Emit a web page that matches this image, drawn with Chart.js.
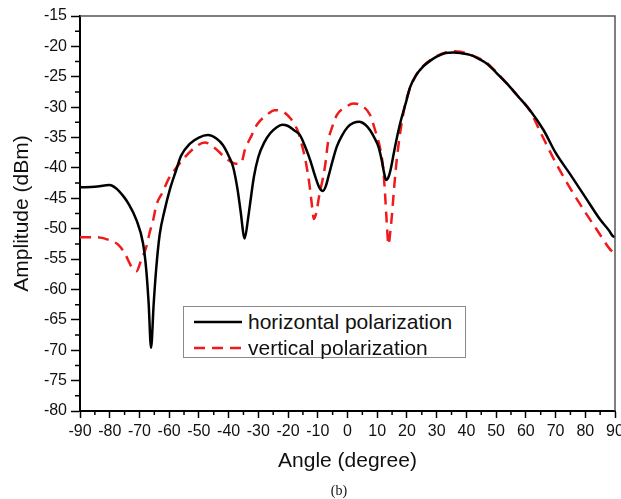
<!DOCTYPE html>
<html>
<head>
<meta charset="utf-8">
<script src="https://cdn.jsdelivr.net/npm/chart.js@4.4.1/dist/chart.umd.min.js"></script>
<style>
  body { margin: 0; background: #fff; }
  #wrap { position: relative; width: 621px; height: 499px; }
  #legend {
    position: absolute; left: 183px; top: 306px; width: 281px; height: 50px;
    border: 1.5px solid #8a8a8a; background: #fff;
    font-family: "Liberation Sans", Arial, sans-serif; font-size: 21px; color: #111;
  }
  #legend .row { position: absolute; left: 0; height: 26px; line-height: 26px; white-space: nowrap; }
  #legend svg { position: absolute; left: 10px; top: 0; }
  #legend span { position: absolute; left: 64px; top: 0; }
  #caption {
    position: absolute; left: 309px; top: 482px; width: 60px; text-align: center;
    font-family: "Liberation Serif", "Times New Roman", serif; font-size: 14px; line-height: 18px; color: #111;
  }
</style>
</head>
<body>
<div id="wrap">
  <canvas id="chart"></canvas>
  <div id="legend"></div>
  <div id="caption">(b)</div>
</div>
<script>
/* =========================
   DATA
========================= */
const angleH = [-90, -85, -80, -78, -75.5, -73.8, -71, -68.8, -67.7, -66.9, -66.1, -65.2, -64.4, -63.2, -61.5,
  -59.8, -57.6, -56, -53, -50, -47, -44, -42, -40, -38.5, -37, -36, -34.6, -33.5, -32.8, -31.5, -30, -28,
  -26, -24, -22, -20, -18, -16, -14, -12.5, -11, -9.5, -8.3, -7.3, -6.4, -5, -3.6, -2, 0, 2, 4, 6, 7.6,
  9, 10.4, 11.5, 12.3, 13, 13.8, 14.5, 16, 17.7, 19.9, 21, 23, 25.5, 28, 30, 33, 35.6, 38, 41.2, 44,
  46.8, 50, 53.6, 57, 61.4, 66, 70, 75, 80, 85, 88, 89.2, 90];
const ampH = [-43.2, -43.1, -42.8, -43.3, -44.6, -45.8, -48.6, -52.4, -56.8, -62.3, -69.6, -62.3, -56.8, -51, -46.9,
  -43.6, -40.3, -38, -36, -35, -34.6, -35.2, -36.2, -38, -39.8, -43.5, -47, -51.6, -48.5, -46, -41.5, -38.2, -35.8,
  -34.3, -33.4, -32.9, -33.1, -33.8, -34.6, -36.8, -38.8, -41.2, -43.2, -43.8, -43, -41.4, -38.8, -36.5, -34.8, -33.3, -32.6, -32.4, -32.9, -33.8,
  -35, -36.5, -38.7, -40.8, -42, -41.5, -40.3, -36.5, -32.7, -28.8, -26.8, -24.8, -23.3, -22.3, -21.7, -21.1, -21, -21.1, -21.4, -22,
  -22.8, -24.3, -26.1, -28, -30.5, -33.8, -37.5, -41.1, -44.8, -48.5, -50.3, -51.2, -51.4];

const angleV = [-90, -85, -80, -77, -75, -72.5, -71, -69.5, -67.7, -66.5, -65.4, -64.3, -62.1, -60.4, -58.1,
  -55, -51, -48, -45, -40.6, -37.5, -35.8, -34.5, -32.2, -30.5, -27.2, -24.5, -22.5, -19.3, -16.5, -15.2,
  -14.2, -13.2, -12.6, -12, -11.3, -10.5, -9.5, -8.4, -7.5, -6.5, -5.3, -3.6, -0.3, 2, 4.2, 7.6, 9.3, 10.9,
  12, 12.6, 13.2, 13.8, 14.4, 15, 15.4, 16, 16.6, 17.7, 18.8, 20, 23, 25.5, 28, 30, 33, 36, 38, 41.2, 44,
  46.8, 50, 53.6, 57, 61.4, 65, 70, 75, 80, 85, 88, 90];
const ampV = [-51.4, -51.4, -51.9, -52.7, -54, -56.4, -57, -55.3, -53, -50.5, -48.6, -46.1, -43.9, -42, -40.3,
  -38.4, -36.5, -35.8, -36.6, -38.5, -39.3, -39.2, -37, -34.6, -32.9, -31.3, -30.5, -30.6, -31.8, -34.2, -36.5,
  -38.6, -41.4, -43.5, -46, -48.4, -47.4, -44.5, -42, -39.5, -35.6, -33.5, -31.3, -29.9, -29.4, -29.6, -31.3, -33.8, -36.6,
  -40, -44, -49, -52.6, -50.5, -47.5, -45, -41.5, -38.5, -34.3, -31, -28.4, -24.8, -23.2, -22.2, -21.6, -21, -20.8, -20.9, -21.3, -21.9,
  -22.7, -24.2, -26.1, -28, -30.6, -34.2, -39.1, -43.4, -47.3, -51, -53.2, -54.2];

const seriesNames = ["horizontal polarization", "vertical polarization"];
const xMin = -90, xMax = 90, xStep = 10;
const yMin = -80, yMax = -15, yStep = 5;

const toPoints = (xs, ys) => xs.map((x, i) => ({ x: x, y: ys[i] }));

/* =========================
   FRAME + MINOR TICKS
========================= */
const frame = {
  id: "frame",
  afterDraw(chart) {
    const { ctx, chartArea: a, scales: { x, y } } = chart;
    ctx.save();
    ctx.strokeStyle = "#555";
    ctx.lineWidth = 1.5;
    ctx.beginPath();
    ctx.moveTo(a.left, a.top);
    ctx.lineTo(a.right, a.top);
    ctx.lineTo(a.right, a.bottom);
    ctx.stroke();

    ctx.strokeStyle = "#000";
    ctx.beginPath();
    for (let v = yMin + yStep / 2; v < yMax; v += yStep) {
      const py = y.getPixelForValue(v);
      ctx.moveTo(a.left - 5, py);
      ctx.lineTo(a.left, py);
    }
    for (let v = xMin + xStep / 2; v < xMax; v += xStep) {
      const px = x.getPixelForValue(v);
      ctx.moveTo(px, a.bottom);
      ctx.lineTo(px, a.bottom + 4);
    }
    ctx.stroke();
    ctx.restore();
  }
};

const font = "'Liberation Sans', Arial, sans-serif";

/* =========================
   CHART
========================= */
const chart = new Chart(document.getElementById("chart"), {
  type: "line",
  data: {
    datasets: [{
      label: seriesNames[0],
      data: toPoints(angleH, ampH),
      borderColor: "#000",
      borderWidth: 2.5,
      pointRadius: 0,
      cubicInterpolationMode: "monotone"
    }, {
      label: seriesNames[1],
      data: toPoints(angleV, ampV),
      borderColor: "#f01a1a",
      borderWidth: 2.5,
      borderDash: [11, 7],
      pointRadius: 0,
      cubicInterpolationMode: "monotone"
    }]
  },
  options: {
    responsive: true,
    maintainAspectRatio: false,
    animation: false,
    layout: { padding: { left: 0, right: 6, top: 16, bottom: 25 } },
    plugins: { legend: { display: false }, tooltip: { enabled: false } },
    scales: {
      x: {
        type: "linear",
        min: xMin, max: xMax,
        border: { color: "#000", width: 2 },
        grid: { drawOnChartArea: false, tickLength: 7, tickWidth: 1.5, tickColor: "#000" },
        ticks: { stepSize: xStep, padding: 4, color: "#111", maxRotation: 0, font: { family: font, size: 16 } },
        title: { display: true, text: "Angle (degree)", color: "#111", padding: 0, font: { family: font, size: 21 } },
        afterFit(scale) { scale.height = 63; scale.paddingLeft = 0; scale.paddingRight = 0; }
      },
      y: {
        min: yMin, max: yMax,
        border: { color: "#000", width: 2 },
        grid: { drawOnChartArea: false, tickLength: 9, tickWidth: 1.5, tickColor: "#000" },
        ticks: { stepSize: yStep, padding: 4, color: "#111", font: { family: font, size: 16 } },
        title: { display: true, text: "Amplitude (dBm)", color: "#111", padding: { top: 10, bottom: 0 }, font: { family: font, size: 21 } },
        afterFit(scale) { scale.width = 80; }
      }
    }
  },
  plugins: [frame]
});

/* =========================
   LEGEND (HTML)
========================= */
const legendBox = document.getElementById("legend");
chart.data.datasets.forEach((ds, i) => {
  const row = document.createElement("div");
  row.className = "row";
  row.style.top = (2 + i * 26) + "px";
  const dash = ds.borderDash ? ds.borderDash.join(",") : "none";
  row.innerHTML =
    `<svg width="50" height="26"><line x1="0" y1="13" x2="48" y2="13" stroke="${ds.borderColor}" ` +
    `stroke-width="${ds.borderWidth}" stroke-dasharray="${dash}"/></svg><span>${ds.label}</span>`;
  legendBox.appendChild(row);
});
</script>
</body>
</html>
